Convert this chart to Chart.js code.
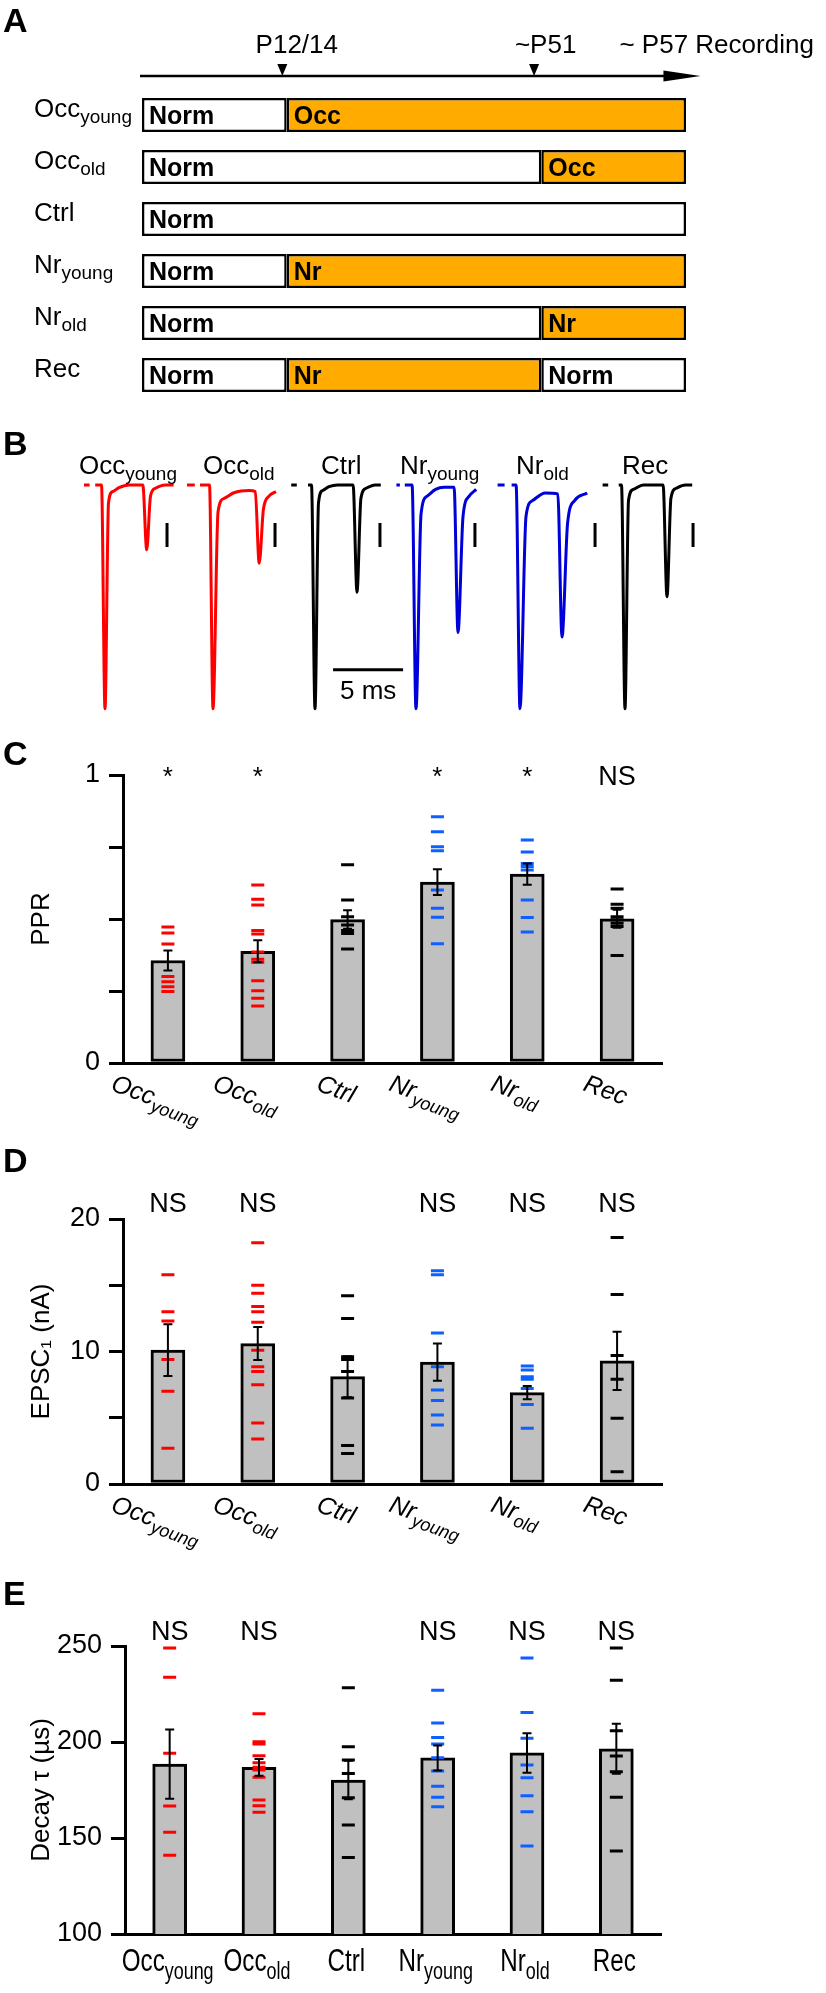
<!DOCTYPE html>
<html lang="en">
<head>
<meta charset="UTF-8">
<title>Rearing timeline, paired EPSCs, PPR, EPSC1 and decay</title>
<script src="https://cdn.jsdelivr.net/npm/chart.js@4"></script>
<style>
  body { margin: 0; background: #fff; font-family: "Liberation Sans", Arial, Helvetica, sans-serif; }
  #fig { position: relative; width: 826px; height: 1993px; overflow: hidden; }
  #fig canvas { position: absolute; }
  .panel { position: absolute; left: 3px; font-weight: bold; font-size: 34px; line-height: 34px; }
  .lbl { position: absolute; font-size: 26px; line-height: 26px; white-space: nowrap; }
  .lbl .s { font-size: 19px; position: relative; top: 6px; }
</style>
</head>
<body>
<div id="fig">
  <canvas id="timeline" width="826" height="410" style="left:0;top:0"></canvas>

  <canvas id="tr0" width="119" height="232" style="left:77px;top:480px"></canvas>
  <canvas id="tr1" width="119" height="232" style="left:185px;top:480px"></canvas>
  <canvas id="tr2" width="119" height="232" style="left:287px;top:480px"></canvas>
  <canvas id="tr3" width="119" height="232" style="left:388px;top:480px"></canvas>
  <canvas id="tr4" width="119" height="232" style="left:492px;top:480px"></canvas>
  <canvas id="tr5" width="119" height="232" style="left:597px;top:480px"></canvas>

  <canvas id="pprChart" width="826" height="410" style="left:0;top:730px"></canvas>
  <canvas id="epscChart" width="826" height="410" style="left:0;top:1150px"></canvas>
  <canvas id="tauChart" width="826" height="433" style="left:0;top:1560px"></canvas>

  <div class="panel" style="top:3px">A</div>
  <div class="panel" style="top:426px">B</div>
  <div class="panel" style="top:736px">C</div>
  <div class="panel" style="top:1143px">D</div>
  <div class="panel" style="top:1576px">E</div>

  <div class="lbl" style="left:79px;top:452px">Occ<span class="s">young</span></div>
  <div class="lbl" style="left:203px;top:452px">Occ<span class="s">old</span></div>
  <div class="lbl" style="left:321px;top:452px">Ctrl</div>
  <div class="lbl" style="left:400px;top:452px">Nr<span class="s">young</span></div>
  <div class="lbl" style="left:516px;top:452px">Nr<span class="s">old</span></div>
  <div class="lbl" style="left:622px;top:452px">Rec</div>
  <div class="lbl" style="left:340px;top:677px">5 ms</div>
</div>

<script>
// ---- groups (same order in every panel) ----
const groupKeys = ['Occ_young', 'Occ_old', 'Ctrl', 'Nr_young', 'Nr_old', 'Rec'];
const groupMain = ['Occ', 'Occ', 'Ctrl', 'Nr', 'Nr', 'Rec'];
const groupSub = ['young', 'old', '', 'young', 'old', ''];
const dashColors = ['#ff0000', '#ff0000', '#000000', '#0f5fff', '#0f5fff', '#000000'];
const traceColors = ['#ff0000', '#ff0000', '#000000', '#0000d8', '#0000d8', '#000000'];

// ---- A: rearing schedule, one regime per phase ----
const phaseEdges = [0, 1, 2.76, 3.76];
const planOccYoung = ['Norm', 'Occ', 'Occ'];
const planOccOld = ['Norm', 'Norm', 'Occ'];
const planCtrl = ['Norm', 'Norm', 'Norm'];
const planNrYoung = ['Norm', 'Nr', 'Nr'];
const planNrOld = ['Norm', 'Norm', 'Nr'];
const planRec = ['Norm', 'Nr', 'Norm'];
const ageAxisRange = [-0.014, 3.86];
const markerPos = [0.97, 2.71];
const markerText = ['P12/14', '~P51'];
const markerTextPos = [1.07, 2.79];
const endText = '~ P57 Recording';
const endTextPos = 3.30;

// ---- B: example paired EPSCs, [time (ms) from 1st peak, normalised current] ----
const traceOccYoung = [[-1.5,0],[-1.1,0],[-0.9,null],[-0.7,0],[-0.25,0],[0,-1],[0.25,-0.08],[0.55,-0.03],[1.0,-0.012],[1.7,0],[2.7,0],[2.98,-0.29],[3.25,-0.05],[3.6,-0.015],[4.3,0],[4.9,0]];
const traceOccOld = [[-1.86,0],[-1.3,0],[-1.1,null],[-0.93,0],[-0.25,0],[0,-1],[0.36,-0.12],[0.8,-0.06],[1.5,-0.035],[2.6,-0.025],[3.02,-0.03],[3.3,-0.35],[3.6,-0.11],[4.0,-0.05],[4.5,-0.03]];
const traceCtrl = [[-1.7,0],[-1.3,0],[-1.0,null],[-0.5,0],[-0.25,0],[0,-1],[0.25,-0.08],[0.55,-0.025],[1.0,-0.008],[1.6,0],[2.72,0],[3.0,-0.48],[3.28,-0.06],[3.65,-0.015],[4.3,0],[4.7,0]];
const traceNrYoung = [[-1.4,0],[-1.15,0],[-1.0,null],[-0.8,0],[-0.28,0],[0,-1],[0.36,-0.13],[0.8,-0.05],[1.4,-0.02],[2.0,-0.01],[2.72,-0.01],[3.0,-0.66],[3.36,-0.14],[3.8,-0.05],[4.3,-0.02]];
const traceNrOld = [[-1.6,0],[-1.1,0],[-0.9,null],[-0.6,0],[-0.28,0],[0,-1],[0.43,-0.14],[0.9,-0.07],[1.8,-0.036],[2.7,-0.04],[3.0,-0.68],[3.4,-0.17],[3.9,-0.07],[4.8,-0.036]];
const traceRec = [[-1.6,0],[-1.2,0],[-1.0,null],[-0.45,0],[-0.25,0],[0,-1],[0.25,-0.07],[0.6,-0.02],[1.3,0],[2.72,0],[3.0,-0.50],[3.28,-0.06],[3.65,-0.015],[4.3,0],[4.8,0]];
const scaleBarT = [4.43, 4.43, 4.64, 4.21, 5.36, 4.86];
const scaleBarY = [-0.17, -0.277];
const timeBarT = [1.29, 6.29];   // 5 ms
const timeBarY = -0.826;

// ---- C: paired-pulse ratio ----
const pprMean = [0.356, 0.388, 0.498, 0.628, 0.656, 0.501];
const pprSem = [0.035, 0.038, 0.032, 0.045, 0.037, 0.031];
const pprOccYoung = [0.472, 0.451, 0.413, 0.300, 0.282, 0.265, 0.248];
const pprOccOld = [0.618, 0.569, 0.549, 0.460, 0.448, 0.385, 0.360, 0.350, 0.286, 0.251, 0.225, 0.198];
const pprCtrl = [0.688, 0.566, 0.508, 0.479, 0.460, 0.450, 0.396];
const pprNrYoung = [0.855, 0.803, 0.751, 0.737, 0.601, 0.537, 0.506, 0.414];
const pprNrOld = [0.774, 0.733, 0.693, 0.682, 0.670, 0.566, 0.505, 0.455];
const pprRec = [0.604, 0.551, 0.537, 0.508, 0.497, 0.485, 0.474, 0.373];
const pprSig = ['*', '*', '', '*', '*', 'NS'];

// ---- D: EPSC1 amplitude (nA) ----
const epscMean = [10.1, 10.6, 8.1, 9.2, 6.9, 9.3];
const epscSem = [1.95, 1.25, 1.55, 1.4, 0.5, 2.2];
const epscOccYoung = [15.8, 13.0, 12.3, 9.4, 7.0, 2.7];
const epscOccOld = [18.2, 15.0, 14.4, 13.4, 13.0, 12.2, 10.1, 8.85, 8.5, 7.5, 4.6, 3.4];
const epscCtrl = [14.2, 12.5, 9.6, 9.4, 8.5, 6.5, 2.9, 2.3];
const epscNrYoung = [16.1, 15.8, 11.4, 8.85, 7.1, 6.3, 5.2, 4.45];
const epscNrOld = [8.9, 8.6, 8.1, 7.9, 7.2, 6.0, 4.2];
const epscRec = [18.6, 14.3, 9.7, 7.9, 4.96, 0.93];
const epscSig = ['NS', 'NS', '', 'NS', 'NS', 'NS'];

// ---- E: decay tau (us) ----
const tauMean = [188.5, 186.8, 180.2, 191.7, 194.3, 196.5];
const tauSem = [18, 4.4, 10, 6.5, 10.3, 13];
const tauOccYoung = [249, 233.7, 194.1, 166.7, 153, 141];
const tauOccOld = [214.7, 200.1, 199, 192.9, 189.2, 186.8, 185.4, 181.6, 169.8, 166.8, 163.4];
const tauCtrl = [228.3, 197.5, 190.6, 183.6, 171, 156.8, 139.8];
const tauNrYoung = [226.9, 209.9, 202.3, 199, 191.8, 184.9, 176.9, 171.2, 166.3];
const tauNrOld = [243.7, 215.3, 202, 188, 181.4, 172, 163.7, 145.8];
const tauRec = [249, 232.1, 205.9, 192.7, 184.5, 171.2, 143.2];
const tauSig = ['NS', 'NS', '', 'NS', 'NS', 'NS'];

const FONT = '"Liberation Sans", Arial, Helvetica, sans-serif';
const ORANGE = '#ffab00';
Chart.defaults.font.family = FONT;
Chart.defaults.color = '#000';

// text with a subscript part, drawn on a canvas
function drawSubText(ctx, main, sub, x, y, align, size, subSize, style) {
    const st = style ? style + ' ' : '';
    ctx.font = st + size + 'px ' + FONT;
    const wm = ctx.measureText(main).width;
    ctx.font = st + subSize + 'px ' + FONT;
    const ws = sub ? ctx.measureText(sub).width : 0;
    const x0 = align === 'center' ? x - (wm + ws) / 2 : x;
    ctx.fillStyle = '#000';
    ctx.textAlign = 'left';
    ctx.textBaseline = 'alphabetic';
    ctx.font = st + size + 'px ' + FONT;
    ctx.fillText(main, x0, y);
    if (sub) {
        ctx.font = st + subSize + 'px ' + FONT;
        ctx.fillText(sub, x0 + wm, y + Math.round(subSize * 0.33));
    }
    return wm + ws;
}
function subTextWidth(ctx, main, sub, size, subSize, style) {
    const st = style ? style + ' ' : '';
    ctx.font = st + size + 'px ' + FONT;
    let w = ctx.measureText(main).width;
    if (sub) { ctx.font = st + subSize + 'px ' + FONT; w += ctx.measureText(sub).width; }
    return w;
}

// ---------- A ----------
const plans = [planOccYoung, planOccOld, planCtrl, planNrYoung, planNrOld, planRec];
const segments = plans.map(p => {
    const out = [];
    p.forEach((r, k) => {
        const last = out[out.length - 1];
        if (last && last.regime === r) last.end = phaseEdges[k + 1];
        else out.push({ regime: r, start: phaseEdges[k], end: phaseEdges[k + 1] });
    });
    return out;
});
const timelineSets = [0, 1, 2].map(j => ({
    data: segments.map(s => s[j] ? [s[j].start, s[j].end] : null),
    regimes: segments.map(s => s[j] ? s[j].regime : ''),
    backgroundColor: segments.map(s => s[j] && s[j].regime !== 'Norm' ? ORANGE : '#ffffff'),
    borderColor: '#000',
    borderWidth: 2.5,
    borderSkipped: false,
    grouped: false,
    barPercentage: 0.654,
    categoryPercentage: 1
}));

const timelineDecor = {
    id: 'timelineDecor',
    afterDraw(chart) {
        const ctx = chart.ctx, xs = chart.scales.x, ys = chart.scales.y;
        ctx.save();
        ctx.fillStyle = '#000';
        ctx.textAlign = 'left';
        ctx.textBaseline = 'alphabetic';
        ctx.font = 'bold 25px ' + FONT;
        chart.data.datasets.forEach((ds, d) => {
            chart.getDatasetMeta(d).data.forEach((bar, i) => {
                if (!ds.regimes[i]) return;
                ctx.font = 'bold 25px ' + FONT;
                ctx.fillStyle = '#000';
                ctx.fillText(ds.regimes[i], Math.min(bar.x, bar.base) + 7, bar.y + 9);
            });
        });
        groupMain.forEach((m, i) => drawSubText(ctx, m, groupSub[i], 34, ys.getPixelForValue(i) + 2, 'left', 26, 19));

        // age axis with arrow head and markers
        const ay = chart.chartArea.top - 13;
        const xa = xs.getPixelForValue(ageAxisRange[0]);
        const xb = xs.getPixelForValue(ageAxisRange[1]);
        ctx.strokeStyle = '#000';
        ctx.fillStyle = '#000';
        ctx.lineWidth = 2.5;
        ctx.beginPath(); ctx.moveTo(xa, ay); ctx.lineTo(xb - 30, ay); ctx.stroke();
        ctx.beginPath(); ctx.moveTo(xb, ay); ctx.lineTo(xb - 37, ay - 5.5); ctx.lineTo(xb - 37, ay + 5.5); ctx.closePath(); ctx.fill();
        markerPos.forEach(v => {
            const x = xs.getPixelForValue(v);
            ctx.beginPath(); ctx.moveTo(x - 5, ay - 12); ctx.lineTo(x + 5, ay - 12); ctx.lineTo(x, ay); ctx.closePath(); ctx.fill();
        });
        ctx.font = '26px ' + FONT;
        ctx.textAlign = 'center';
        markerText.forEach((t, k) => ctx.fillText(t, xs.getPixelForValue(markerTextPos[k]), ay - 23));
        ctx.textAlign = 'left';
        ctx.fillText(endText, xs.getPixelForValue(endTextPos), ay - 23);
        ctx.restore();
    }
};

new Chart(document.getElementById('timeline'), {
    type: 'bar',
    data: { labels: groupKeys, datasets: timelineSets },
    options: {
        indexAxis: 'y',
        responsive: false,
        animation: false,
        layout: { padding: { left: 142, right: 140, top: 89, bottom: 9 } },
        plugins: { legend: { display: false }, tooltip: { enabled: false } },
        scales: {
            x: { type: 'linear', min: phaseEdges[0], max: phaseEdges[phaseEdges.length - 1], display: false },
            y: { display: false }
        }
    },
    plugins: [timelineDecor]
});

// ---------- B ----------
const traces = [traceOccYoung, traceOccOld, traceCtrl, traceNrYoung, traceNrOld, traceRec];
traces.forEach((tr, i) => {
    const datasets = [
        {
            data: tr.map(p => ({ x: p[0], y: p[1] })),
            borderColor: traceColors[i],
            borderWidth: 3,
            pointRadius: 0,
            cubicInterpolationMode: 'monotone',
            spanGaps: false
        },
        {
            data: scaleBarY.map(y => ({ x: scaleBarT[i], y: y })),
            borderColor: '#000',
            borderWidth: 3,
            pointRadius: 0
        }
    ];
    if (groupKeys[i] === 'Ctrl') {
        datasets.push({
            data: timeBarT.map(t => ({ x: t, y: timeBarY })),
            borderColor: '#000',
            borderWidth: 3,
            pointRadius: 0
        });
    }
    new Chart(document.getElementById('tr' + i), {
        type: 'line',
        data: { datasets: datasets },
        options: {
            responsive: false,
            animation: false,
            layout: { padding: 0 },
            plugins: { legend: { display: false }, tooltip: { enabled: false } },
            scales: {
                x: { type: 'linear', min: -2, max: 6.5, display: false },
                y: { min: -1.015, max: 0.022, display: false }
            }
        }
    });
});

// ---------- C, D, E ----------
function statChart(id, s) {
    const pts = [];
    s.points.forEach((arr, g) => arr.forEach(v => pts.push({ x: groupKeys[g], y: v })));
    const ptColors = [];
    s.points.forEach((arr, g) => arr.forEach(() => ptColors.push(dashColors[g])));

    const errorBars = {
        id: 'errorBars',
        afterDatasetsDraw(chart) {
            const ctx = chart.ctx, xs = chart.scales.x, ys = chart.scales.y;
            ctx.save();
            ctx.strokeStyle = '#000';
            ctx.lineWidth = 2;
            s.means.forEach((m, i) => {
                const x = xs.getPixelForValue(i);
                const yt = ys.getPixelForValue(m + s.sem[i]);
                const yb = ys.getPixelForValue(m - s.sem[i]);
                ctx.beginPath();
                ctx.moveTo(x, yt); ctx.lineTo(x, yb);
                ctx.moveTo(x - 4.5, yt); ctx.lineTo(x + 4.5, yt);
                ctx.moveTo(x - 4.5, yb); ctx.lineTo(x + 4.5, yb);
                ctx.stroke();
            });
            ctx.restore();
        }
    };

    const groupLabels = {
        id: 'groupLabels',
        afterDraw(chart) {
            const ctx = chart.ctx, xs = chart.scales.x, bottom = chart.chartArea.bottom;
            groupMain.forEach((m, i) => {
                const x = xs.getPixelForValue(i);
                ctx.save();
                if (s.tilt) {
                    const a = s.tilt * Math.PI / 180;
                    const w = subTextWidth(ctx, m, groupSub[i], 25, 18, 'italic');
                    ctx.translate(x - 8 - w / 2 * Math.cos(a), bottom + 10);
                    ctx.rotate(a);
                    drawSubText(ctx, m, groupSub[i], 0, 18, 'left', 25, 18, 'italic');
                } else {
                    ctx.translate(x - 2, bottom + 37);
                    ctx.scale(0.78, 1);
                    drawSubText(ctx, m, groupSub[i], 0, 0, 'center', 31, 23);
                }
                ctx.restore();
            });
        }
    };

    const sigMarks = {
        id: 'sigMarks',
        afterDraw(chart) {
            const ctx = chart.ctx, xs = chart.scales.x, ys = chart.scales.y;
            ctx.save();
            ctx.fillStyle = '#000';
            ctx.textAlign = 'center';
            ctx.textBaseline = 'alphabetic';
            s.sig.forEach((t, i) => {
                if (!t) return;
                ctx.font = (t === '*' ? '26px ' : '27px ') + FONT;
                ctx.fillText(t, xs.getPixelForValue(i), ys.getPixelForValue(s.sigAt));
            });
            ctx.restore();
        }
    };

    return new Chart(document.getElementById(id), {
        type: 'bar',
        data: {
            labels: groupKeys,
            datasets: [
                {
                    type: 'line',
                    data: pts,
                    showLine: false,
                    pointStyle: 'line',
                    pointRadius: 6.5,
                    pointHoverRadius: 6.5,
                    pointBorderWidth: 3,
                    pointBorderColor: ptColors,
                    order: 0
                },
                {
                    data: s.means,
                    backgroundColor: '#c0c0c0',
                    borderColor: '#000',
                    borderWidth: 3,
                    borderSkipped: false,
                    barThickness: 34,
                    order: 1
                }
            ]
        },
        options: {
            responsive: false,
            animation: false,
            layout: { padding: { top: s.padTop, right: s.padRight, left: 0, bottom: 0 } },
            plugins: { legend: { display: false }, tooltip: { enabled: false } },
            scales: {
                x: {
                    grid: { display: true, drawOnChartArea: false, drawTicks: false, color: 'rgba(0,0,0,0)' },
                    border: { display: true, color: '#000', width: 3 },
                    ticks: { display: false },
                    afterFit: sc => { sc.height = s.xAxisH; }
                },
                y: {
                    min: s.min,
                    max: s.max,
                    ticks: {
                        stepSize: s.step,
                        padding: 9,
                        color: '#000',
                        font: { size: 27, family: FONT },
                        callback: v => s.labelled.includes(v) ? String(v) : ''
                    },
                    grid: {
                        drawOnChartArea: false, drawTicks: true, tickLength: 14,
                        lineWidth: 3, tickWidth: 3, tickColor: '#000', color: '#000'
                    },
                    border: { display: true, color: '#000', width: 3 },
                    title: {
                        display: true, text: s.title, color: '#000',
                        font: { size: 26, family: FONT },
                        padding: { top: 26, bottom: 0 }
                    },
                    afterFit: sc => { sc.width = s.yAxisW; }
                }
            }
        },
        plugins: [errorBars, groupLabels, sigMarks]
    });
}

statChart('pprChart', {
    points: [pprOccYoung, pprOccOld, pprCtrl, pprNrYoung, pprNrOld, pprRec],
    means: pprMean, sem: pprSem, sig: pprSig, sigAt: 0.965,
    min: 0, max: 1, step: 0.25, labelled: [0, 1], title: 'PPR',
    padTop: 45, xAxisH: 77, yAxisW: 123, padRight: 164, tilt: 20
});
statChart('epscChart', {
    points: [epscOccYoung, epscOccOld, epscCtrl, epscNrYoung, epscNrOld, epscRec],
    means: epscMean, sem: epscSem, sig: epscSig, sigAt: 20.5,
    min: 0, max: 20, step: 5, labelled: [0, 10, 20], title: 'EPSC\u2081 (nA)',
    padTop: 69, xAxisH: 76, yAxisW: 123, padRight: 164, tilt: 20
});
statChart('tauChart', {
    points: [tauOccYoung, tauOccOld, tauCtrl, tauNrYoung, tauNrOld, tauRec],
    means: tauMean, sem: tauSem, sig: tauSig, sigAt: 253,
    min: 100, max: 250, step: 50, labelled: [100, 150, 200, 250], title: 'Decay \u03c4 (\u00b5s)',
    padTop: 86, xAxisH: 59, yAxisW: 125, padRight: 165, tilt: 0
});
</script>
</body>
</html>
